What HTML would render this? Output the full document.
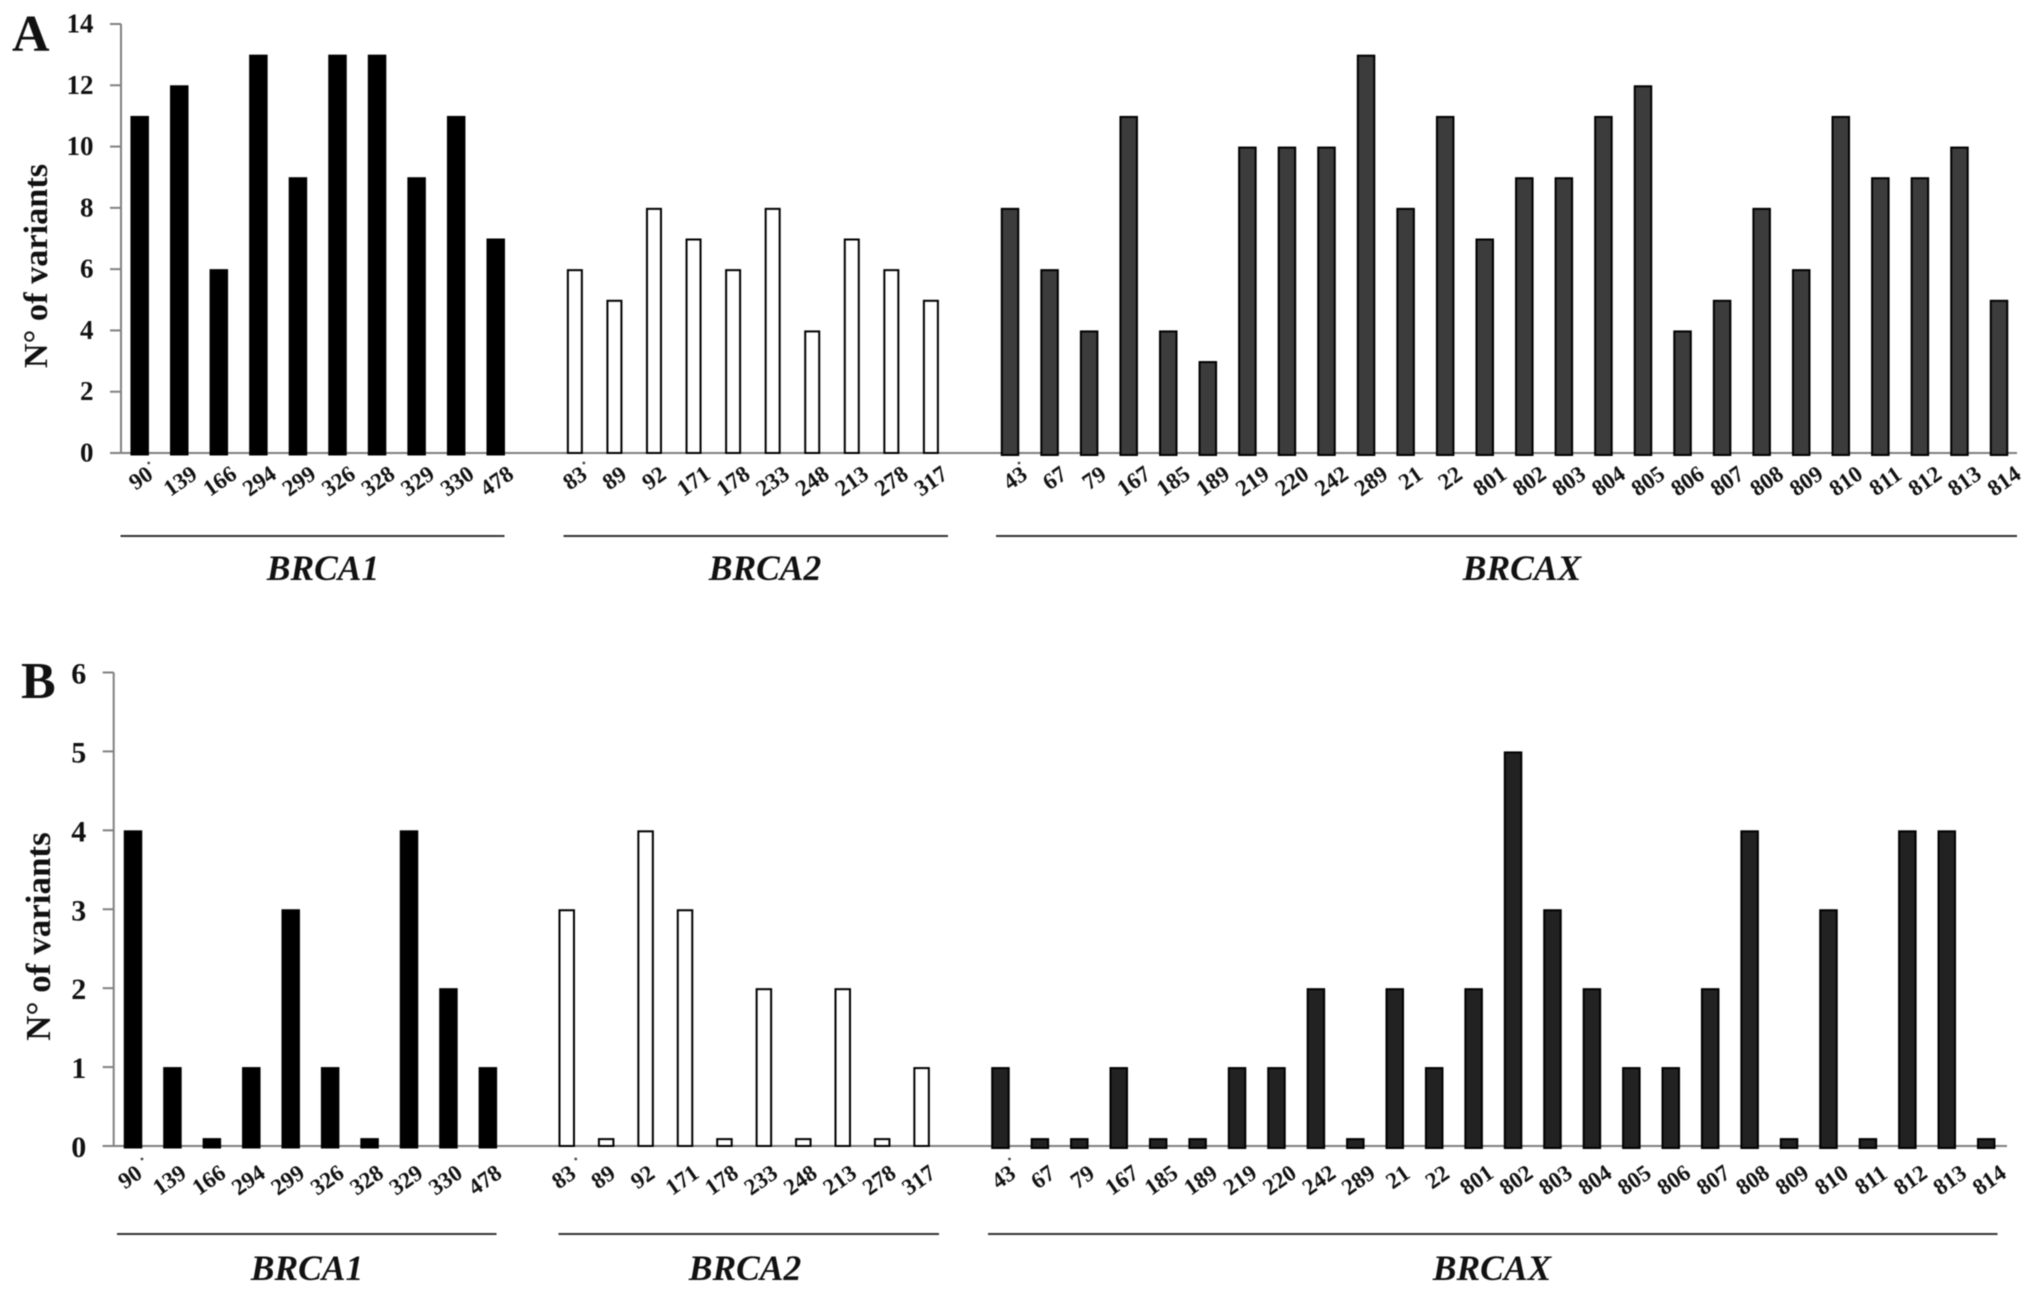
<!DOCTYPE html>
<html lang="en">
<head>
<meta charset="utf-8">
<title>Number of variants per family, panels A and B</title>
<style>
html,body{margin:0;padding:0;background:#fff;}
#figure{display:block;width:2031px;height:1294px;font-family:"Liberation Serif",serif;font-weight:bold;color:#000;filter:blur(0.4px);}
text{fill:#111;font-family:"Liberation Serif",serif;font-weight:bold;}
</style>
</head>
<body>
<svg id="figure" xmlns="http://www.w3.org/2000/svg" width="2031" height="1294" viewBox="0 0 2031 1294">
  <rect x="0" y="0" width="2031" height="1294" fill="#ffffff"/>

  <g id="panel-a">
    <text x="12" y="51" font-size="52">A</text>
    <text x="0" y="0" font-size="34.3" text-anchor="middle" transform="translate(47 266) rotate(-90)">N° of variants</text>
    <line x1="120.5" x2="504.5" y1="536" y2="536" stroke="#333" stroke-width="2"/>
    <line x1="563.5" x2="948" y1="536" y2="536" stroke="#333" stroke-width="2"/>
    <line x1="996" x2="2017" y1="536" y2="536" stroke="#333" stroke-width="2"/>
    <text x="323" y="580" font-size="35.5" font-style="italic" text-anchor="middle">BRCA1</text>
    <text x="765" y="580" font-size="35.5" font-style="italic" text-anchor="middle">BRCA2</text>
    <text x="1522" y="580" font-size="35.5" font-style="italic" text-anchor="middle">BRCAX</text>
  </g>

  <g id="panel-b">
    <text x="21" y="698" font-size="52">B</text>
    <text x="0" y="0" font-size="35" text-anchor="middle" transform="translate(50 936.5) rotate(-90)">N° of variants</text>
    <line x1="117" x2="496.5" y1="1234" y2="1234" stroke="#333" stroke-width="2"/>
    <line x1="558.5" x2="939" y1="1234" y2="1234" stroke="#333" stroke-width="2"/>
    <line x1="988" x2="1997.5" y1="1234" y2="1234" stroke="#333" stroke-width="2"/>
    <text x="307" y="1280" font-size="35.5" font-style="italic" text-anchor="middle">BRCA1</text>
    <text x="745" y="1280" font-size="35.5" font-style="italic" text-anchor="middle">BRCA2</text>
    <text x="1492" y="1280" font-size="35.5" font-style="italic" text-anchor="middle">BRCAX</text>
  </g>
</svg>

<script>
// ---- Chart data ----
const categoriesBrca1 = ['90','139','166','294','299','326','328','329','330','478'];
const categoriesBrca2 = ['83','89','92','171','178','233','248','213','278','317'];
const categoriesBrcax = ['43','67','79','167','185','189','219','220','242','289','21','22','801','802','803','804','805','806','807','808','809','810','811','812','813','814'];

const panelABrca1 = [11,12,6,13,9,13,13,9,11,7];
const panelABrca2 = [6,5,8,7,6,8,4,7,6,5];
const panelABrcax = [8,6,4,11,4,3,10,10,10,13,8,11,7,9,9,11,12,4,5,8,6,11,9,9,10,5];

const panelBBrca1 = [4,1,0.1,1,3,1,0.1,4,2,1];
const panelBBrca2 = [3,0.1,4,3,0.1,2,0.1,2,0.1,1];
const panelBBrcax = [1,0.1,0.1,1,0.1,0.1,1,1,2,0.1,2,1,2,5,3,2,1,1,2,4,0.1,3,0.1,4,4,0.1];

const panelATicks = [0,2,4,6,8,10,12,14];
const panelBTicks = [0,1,2,3,4,5,6];

// ---- Drawing ----
const SVG_NS = 'http://www.w3.org/2000/svg';

function makeSvg(tag, attrs, parent) {
  const el = document.createElementNS(SVG_NS, tag);
  for (const key in attrs) el.setAttribute(key, attrs[key]);
  parent.appendChild(el);
  return el;
}

function drawPanel(id, layout, groups, ticks) {
  const root = document.getElementById('panel-' + id);
  const tickMax = ticks[ticks.length - 1];
  const yScale = function (v) { return layout.zeroY - (v / tickMax) * (layout.zeroY - layout.topY); };
  const xScale = function (slot) { return layout.firstX + slot * layout.step; };

  const yAxis = makeSvg('line', { x1: layout.axisX, x2: layout.axisX, y1: layout.topY, y2: layout.zeroY, stroke: '#808080', 'stroke-width': 2 }, root);
  
  

  const xAxis = makeSvg('line', { x1: layout.axisX - 11, x2: layout.axisEnd, y1: layout.zeroY, y2: layout.zeroY, stroke: '#808080', 'stroke-width': 2 }, root);
  
  

  ticks.forEach(function (t) {
    const y = yScale(t);
    const mark = makeSvg('line', { x1: layout.axisX - 11, x2: layout.axisX, y1: y, y2: y, stroke: '#808080', 'stroke-width': 2 }, root);
    
    

    const tickLabel = makeSvg('text', {
      x: layout.axisX - 27.5,
      y: y + layout.tickDy,
      'font-size': layout.tickSize,
      'text-anchor': 'end'
    }, root);
    tickLabel.textContent = String(t);
    
    
  });

  let slot = 0;
  groups.forEach(function (group) {
    group.categories.forEach(function (cat, i) {
      const cx = xScale(slot);
      const top = yScale(group.values[i]);
      const inset = group.stroke / 2;

      const bar = makeSvg('rect', {
        x: cx - group.width / 2 + inset,
        y: top + inset,
        width: group.width - group.stroke,
        height: layout.zeroY + group.drop - top - inset,
        fill: group.fill,
        stroke: '#000',
        'stroke-width': group.stroke
      }, root);
      
      

      const lx = cx + group.labelDx;
      const ly = layout.zeroY + layout.labelDy + (cat.length === 3 ? 1 : -2);
      const label = makeSvg('text', {
        x: lx,
        y: ly,
        'font-size': 23,
        'text-anchor': 'middle',
        'dominant-baseline': 'central',
        transform: 'rotate(-35 ' + lx + ' ' + ly + ')'
      }, root);
      label.textContent = cat;
      
      

      if (i === 0) {
        const dot = makeSvg('circle', { cx: cx + 9, cy: layout.zeroY + layout.dotDy, r: 1.4, fill: '#444' }, root);
        
        
      }
      slot += 1;
    });
    slot += 1;
  });
}

drawPanel('a',
  { firstX: 139.7, step: 39.56, zeroY: 453, topY: 24, axisX: 121, axisEnd: 2017, labelDy: 27, dotDy: 10, tickDy: 8.5, tickSize: 27 },
  [
    { name: 'brca1', categories: categoriesBrca1, values: panelABrca1, fill: '#000', stroke: 1, width: 18.5, drop: 2, labelDx: 1 },
    { name: 'brca2', categories: categoriesBrca2, values: panelABrca2, fill: '#fff', stroke: 2, width: 16, drop: 0, labelDx: 0 },
    { name: 'brcax', categories: categoriesBrcax, values: panelABrcax, fill: '#3c3c3c', stroke: 2, width: 18.5, drop: 2, labelDx: 5 }
  ],
  panelATicks);

drawPanel('b',
  { firstX: 133, step: 39.43, zeroY: 1146, topY: 672.5, axisX: 113.7, axisEnd: 2007, labelDy: 33, dotDy: 13, tickDy: 11, tickSize: 30 },
  [
    { name: 'brca1', categories: categoriesBrca1, values: panelBBrca1, fill: '#000', stroke: 1, width: 18.5, drop: 2, labelDx: -3 },
    { name: 'brca2', categories: categoriesBrca2, values: panelBBrca2, fill: '#fff', stroke: 2, width: 16.5, drop: 0, labelDx: -3 },
    { name: 'brcax', categories: categoriesBrcax, values: panelBBrcax, fill: '#222', stroke: 2, width: 18.5, drop: 2, labelDx: 3 }
  ],
  panelBTicks);
</script>
</body>
</html>
